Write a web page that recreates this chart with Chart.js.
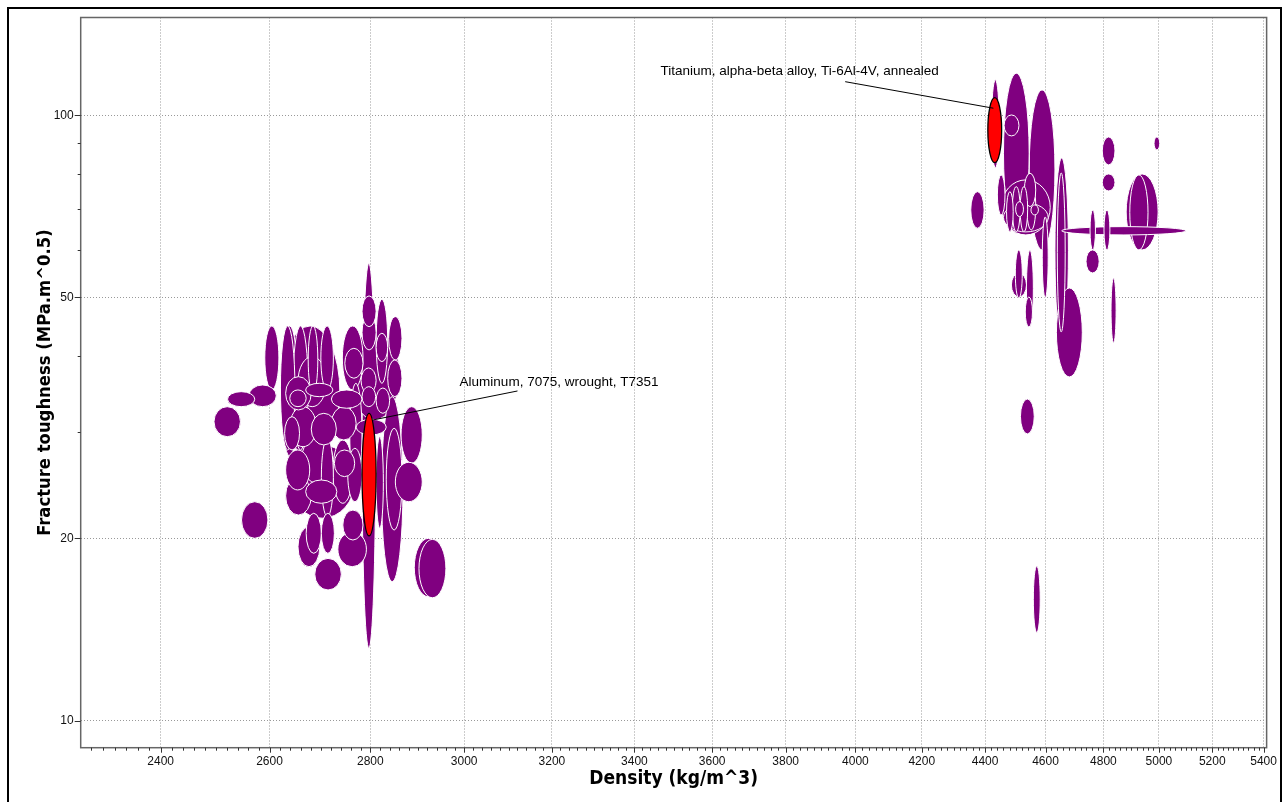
<!DOCTYPE html>
<html><head><meta charset="utf-8">
<script src="https://cdn.jsdelivr.net/npm/chart.js@4.4.1/dist/chart.umd.min.js"></script>
<style>html,body{margin:0;padding:0;background:#fff;overflow:hidden}canvas{display:block}</style>
</head><body>
<canvas id="c" width="1284" height="802"></canvas>
<script>
// ---- Data (density kg/m^3, fracture toughness MPa.m^0.5) ----
const densityLow = [
 2783,2812,2838,2783,2783,2781,2783,2743,2748,2812,2836,2812,
 2591,2621,2623,2645,2675,2700,2631,2655,2639,2670,2721,2639,2681,2721,2758,2771,
 2631,2631,2662,2701,2724,2754,2670,2655,2671,2701,2688,2734,2744,2812,2823,2833,2864,2852,2892,2902,
 2496,2521,2561,2547,2629,2727,
 2621,2639,2758,
 4460,4545,4421,4462,4632,4640,4637,4354,4440,4460,4470,4489,4500,4515,4529,4551,4537,
 4655,4753,4739,4802,4827,4796,4796,4982,4881,4894,4499,4486,4536,4532,4589,4516,4559,
 4453
];
const densityHigh = [
 2811,2836,2866,2812,2812,2812,2811,2785,2785,2836,2866,2840,
 2618,2649,2655,2675,2694,2725,2681,2711,2671,2724,2783,2691,2731,2771,2783,2833,
 2678,2681,2724,2725,2764,2783,2732,2698,2701,2727,2741,2792,2785,2827,2868,2866,2909,2909,2953,2960,
 2545,2572,2613,2597,2658,2768,
 2738,2768,2861,
 4545,4632,4446,4511,4678,4667,4726,4397,4465,4609,4492,4515,4526,4540,4567,4576,4567,
 5101,4772,4785,4823,4845,4841,4841,5003,4997,4960,4522,4536,4559,4556,4609,4562,4582,
 4616
];
const toughLow = [
 13.17,36.08,39.43,44.75,40.96,34.74,33.01,35.18,36.78,39.18,34.29,32.19,
 35.18,28.00,27.30,28.00,34.74,35.18,32.60,33.01,33.01,34.29,32.81,28.35,28.54,29.08,24.67,29.64,
 24.05,21.86,24.67,21.72,22.86,23.00,22.86,17.96,18.90,18.90,16.44,17.96,19.88,20.79,16.97,20.65,26.62,23.00,16.02,15.96,
 29.45,33.01,33.01,20.01,28.00,25.30,
 27.30,21.60,31.40,
 63.84,59.91,81.84,92.43,42.06,43.86,36.96,65.06,68.44,64.16,64.23,64.23,68.00,64.23,70.64,68.44,64.65,
 63.43,59.91,54.89,59.91,42.06,82.78,74.98,87.64,59.91,59.91,49.91,50.10,44.70,44.70,49.91,29.76,13.98,
 63.43
];
const toughHigh = [
 56.95,49.67,46.49,50.30,46.79,38.25,35.62,44.87,41.22,43.64,39.43,35.44,
 44.87,44.87,44.87,44.87,44.87,44.87,37.00,39.93,35.18,36.08,35.18,33.01,32.19,33.01,36.08,31.47,
 28.00,25.30,29.45,29.27,29.08,28.18,24.98,20.91,22.01,22.01,18.54,20.52,22.28,29.45,34.29,30.41,33.01,26.72,20.01,19.93,
 33.01,34.95,35.85,23.00,31.78,28.00,
 44.87,28.54,44.20,
 117.3,110.1,114.4,100.1,85.01,80.30,51.85,74.78,79.69,71.64,74.78,76.22,71.99,76.22,80.20,71.09,77.21,
 65.46,69.76,59.91,69.76,53.86,92.08,79.99,92.08,79.99,79.69,59.91,54.89,59.91,50.10,67.92,33.99,18.01,
 78.20
];

// highlighted materials
const highlightNames = ["Aluminum, 7075, wrought, T7351", "Titanium, alpha-beta alloy, Ti-6Al-4V, annealed"];
const highlightDensityLow  = [2783, 4409];
const highlightDensityHigh = [2812, 4454];
const highlightToughLow    = [20.19, 83.50];
const highlightToughHigh   = [32.19, 106.9];

// axis ticks
const xTickValues = [2400,2600,2800,3000,3200,3400,3600,3800,4000,4200,4400,4600,4800,5000,5200,5400];
const yTickValues = [10,20,50,100];
const yMinorValues = [30,40,60,70,80,90];

// ---- Drawing ----
const PURPLE = '#800080';

const bubblePlugin = {
  id: 'bubbles',
  beforeDatasetsDraw(chart) {
    const {ctx, chartArea: a, scales: {x, y}} = chart;
    ctx.save();
    ctx.beginPath(); ctx.rect(a.left, a.top, a.right - a.left, a.bottom - a.top); ctx.clip();
    const items = densityLow.map((d, i) => {
      const x1 = x.getPixelForValue(d), x2 = x.getPixelForValue(densityHigh[i]);
      const y1 = y.getPixelForValue(toughHigh[i]), y2 = y.getPixelForValue(toughLow[i]);
      return {cx: (x1 + x2) / 2, cy: (y1 + y2) / 2, rx: Math.abs(x2 - x1) / 2, ry: Math.abs(y2 - y1) / 2};
    });
    items.sort((p, q) => q.rx * q.ry - p.rx * p.ry);
    ctx.lineWidth = 1;
    for (const e of items) {
      ctx.beginPath();
      ctx.ellipse(e.cx, e.cy, e.rx, e.ry, 0, 0, Math.PI * 2);
      ctx.fillStyle = PURPLE; ctx.fill();
      ctx.strokeStyle = '#ffffff'; ctx.stroke();
    }
    highlightNames.forEach((n, i) => {
      const x1 = x.getPixelForValue(highlightDensityLow[i]), x2 = x.getPixelForValue(highlightDensityHigh[i]);
      const y1 = y.getPixelForValue(highlightToughHigh[i]), y2 = y.getPixelForValue(highlightToughLow[i]);
      ctx.beginPath();
      ctx.ellipse((x1 + x2) / 2, (y1 + y2) / 2, (x2 - x1) / 2, (y2 - y1) / 2, 0, 0, Math.PI * 2);
      ctx.fillStyle = '#ff0000'; ctx.fill();
      ctx.strokeStyle = '#000000'; ctx.lineWidth = 1.3; ctx.stroke();
    });
    ctx.restore();
  },
  afterDatasetsDraw(chart) {
    const {ctx, scales: {x, y}} = chart;
    const ann = [
      {text: highlightNames[0], lx: 2990, ly: 36.16, sx: 3120, sy: 35.04, ex: 2805, ey: 31.38},
      {text: highlightNames[1], lx: 3466, ly: 118.0, sx: 3970, sy: 113.6, ex: 4427, ey: 102.7}
    ];
    ctx.save();
    ctx.strokeStyle = '#000'; ctx.lineWidth = 1;
    ctx.fillStyle = '#000';
    ctx.font = '13.5px "Liberation Sans", Arial, sans-serif';
    ctx.textAlign = 'left'; ctx.textBaseline = 'middle';
    for (const t of ann) {
      ctx.beginPath();
      ctx.moveTo(x.getPixelForValue(t.sx), y.getPixelForValue(t.sy));
      ctx.lineTo(x.getPixelForValue(t.ex), y.getPixelForValue(t.ey));
      ctx.stroke();
      ctx.fillText(t.text, x.getPixelForValue(t.lx), y.getPixelForValue(t.ly));
    }
    ctx.restore();
  },
  afterDraw(chart) {
    const {ctx, chartArea: a, scales: {x, y}} = chart;
    ctx.save();
    ctx.strokeStyle = '#666'; ctx.lineWidth = 1.5;
    ctx.strokeRect(a.left, a.top, a.right - a.left, a.bottom - a.top);
    ctx.strokeStyle = '#333'; ctx.lineWidth = 1;
    ctx.beginPath();
    for (let v = 2280; v <= 5410; v += 20) {
      const px = Math.round(x.getPixelForValue(v)) + 0.5;
      if (px < a.left || px > a.right + 1) continue;
      const len = (v % 200 === 0) ? 5 : 3;
      ctx.moveTo(px, a.bottom); ctx.lineTo(px, a.bottom + len);
    }
    for (const v of yTickValues) {
      const py = Math.round(y.getPixelForValue(v)) + 0.5;
      ctx.moveTo(a.left, py); ctx.lineTo(a.left - 6, py);
    }
    for (const v of yMinorValues) {
      const py = Math.round(y.getPixelForValue(v)) + 0.5;
      ctx.moveTo(a.left, py); ctx.lineTo(a.left - 3, py);
    }
    ctx.stroke();
    ctx.strokeStyle = '#000'; ctx.lineWidth = 2;
    ctx.beginPath();
    ctx.moveTo(8, 802); ctx.lineTo(8, 8); ctx.lineTo(1281, 8); ctx.lineTo(1281, 802);
    ctx.stroke();
    ctx.restore();
  }
};

const fam = '"DejaVu Sans Condensed", "DejaVu Sans", sans-serif';
const tickFont = {family: '"Liberation Sans", Arial, sans-serif', size: 12};

new Chart(document.getElementById('c'), {
  type: 'scatter',
  data: {datasets: []},
  options: {
    responsive: false,
    devicePixelRatio: 1,
    animation: false,
    layout: {padding: {left: 0, top: 17.5, right: 15.3, bottom: 0}},
    plugins: {legend: {display: false}, tooltip: {enabled: false}},
    scales: {
      x: {
        type: 'logarithmic', min: 2263, max: 5412,
        afterBuildTicks: s => { s.ticks = xTickValues.map(v => ({value: v})); },
        afterFit: s => { s.height = 54.3; },
        ticks: {autoSkip: false, maxRotation: 0, padding: 7, color: '#111', font: tickFont, callback: v => String(v)},
        grid: {color: '#999', lineWidth: 1, drawTicks: false},
        border: {display: false, dash: [1, 2]},
        title: {display: true, text: 'Density (kg/m^3)', color: '#000', font: {family: fam, size: 19, weight: 'bold'}, padding: {top: 0, bottom: 12}}
      },
      y: {
        type: 'logarithmic', min: 9.025, max: 145,
        afterBuildTicks: s => { s.ticks = yTickValues.map(v => ({value: v})); },
        afterFit: s => { s.width = 80.7; },
        ticks: {autoSkip: false, padding: 7, color: '#111', font: tickFont, callback: v => String(v)},
        grid: {color: '#999', lineWidth: 1, drawTicks: false},
        border: {display: false, dash: [1, 2]},
        title: {display: true, text: 'Fracture toughness (MPa.m^0.5)', color: '#000', font: {family: fam, size: 18.3, weight: 'bold'}, padding: {top: 34, bottom: 0}}
      }
    }
  },
  plugins: [bubblePlugin]
});
</script>
</body></html>
